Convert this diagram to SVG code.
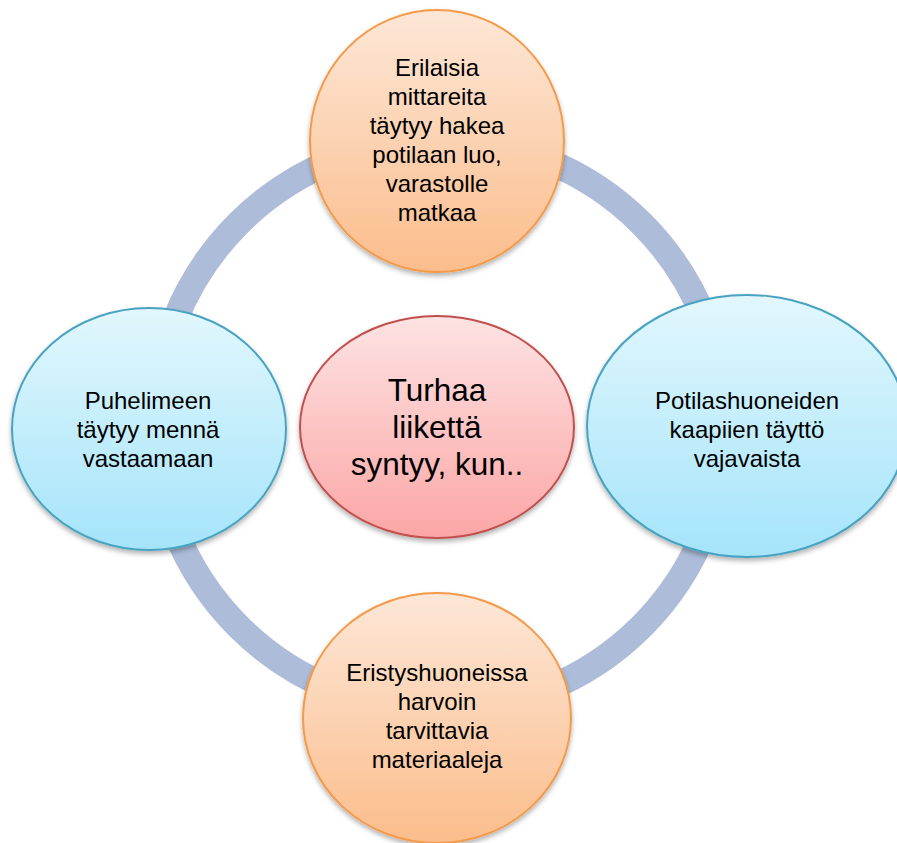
<svg xmlns="http://www.w3.org/2000/svg" width="897" height="843" viewBox="0 0 897 843">
  <defs>
    <linearGradient id="gOrange" x1="0" y1="0" x2="0" y2="1">
      <stop offset="0" stop-color="#fde7d7"/>
      <stop offset="1" stop-color="#fbbd8c"/>
    </linearGradient>
    <linearGradient id="gBlue" x1="0" y1="0" x2="0" y2="1">
      <stop offset="0" stop-color="#e2f7fd"/>
      <stop offset="1" stop-color="#a5e4fa"/>
    </linearGradient>
    <linearGradient id="gRed" x1="0" y1="0" x2="0" y2="1">
      <stop offset="0" stop-color="#fde3e3"/>
      <stop offset="1" stop-color="#fca6a6"/>
    </linearGradient>
    <filter id="shadow" x="-10%" y="-10%" width="120%" height="125%">
      <feDropShadow dx="0" dy="3" stdDeviation="2.5" flood-color="#000" flood-opacity="0.3"/>
    </filter>
  </defs>
  <style>
    .orange { fill: url(#gOrange); stroke: #f49a48; stroke-width: 2; filter: url(#shadow); }
    .blue { fill: url(#gBlue); stroke: #47a3c1; stroke-width: 2; filter: url(#shadow); }
    .red { fill: url(#gRed); stroke: #c0504d; stroke-width: 2; filter: url(#shadow); }
    text { font-family: "Liberation Sans", Arial, sans-serif; fill: #000; text-anchor: middle; }
    .t { font-size: 24px; }
    .tc { font-size: 31.5px; }
    .ring { fill: none; stroke: #adbdd9; stroke-width: 26; }
  </style>

  <rect width="897" height="843" fill="#ffffff"/>

  <g id="connectors">
    <circle class="ring" cx="440" cy="425" r="285"/>
  </g>

  <g id="node-top">
    <ellipse class="orange" cx="437" cy="141" rx="127" ry="131"/>
    <text class="t" x="437" y="76">Erilaisia</text>
    <text class="t" x="437" y="105">mittareita</text>
    <text class="t" x="437" y="134">täytyy hakea</text>
    <text class="t" x="437" y="163">potilaan luo,</text>
    <text class="t" x="437" y="192">varastolle</text>
    <text class="t" x="437" y="221">matkaa</text>
  </g>

  <g id="node-left">
    <ellipse class="blue" cx="149" cy="429" rx="137" ry="121"/>
    <text class="t" x="148" y="409">Puhelimeen</text>
    <text class="t" x="148" y="438">täytyy mennä</text>
    <text class="t" x="148" y="467">vastaamaan</text>
  </g>

  <g id="node-right">
    <ellipse class="blue" cx="747" cy="426" rx="160" ry="131"/>
    <text class="t" x="747" y="409">Potilashuoneiden</text>
    <text class="t" x="747" y="438">kaapiien täyttö</text>
    <text class="t" x="747" y="467">vajavaista</text>
  </g>

  <g id="node-bottom">
    <ellipse class="orange" cx="437" cy="718" rx="134" ry="125"/>
    <text class="t" x="437" y="681">Eristyshuoneissa</text>
    <text class="t" x="437" y="710">harvoin</text>
    <text class="t" x="437" y="739">tarvittavia</text>
    <text class="t" x="437" y="768">materiaaleja</text>
  </g>

  <g id="node-center">
    <ellipse class="red" cx="437" cy="427" rx="137" ry="111"/>
    <text class="tc" x="437" y="401">Turhaa</text>
    <text class="tc" x="437" y="438">liikettä</text>
    <text class="tc" x="437" y="475">syntyy, kun..</text>
  </g>
</svg>
